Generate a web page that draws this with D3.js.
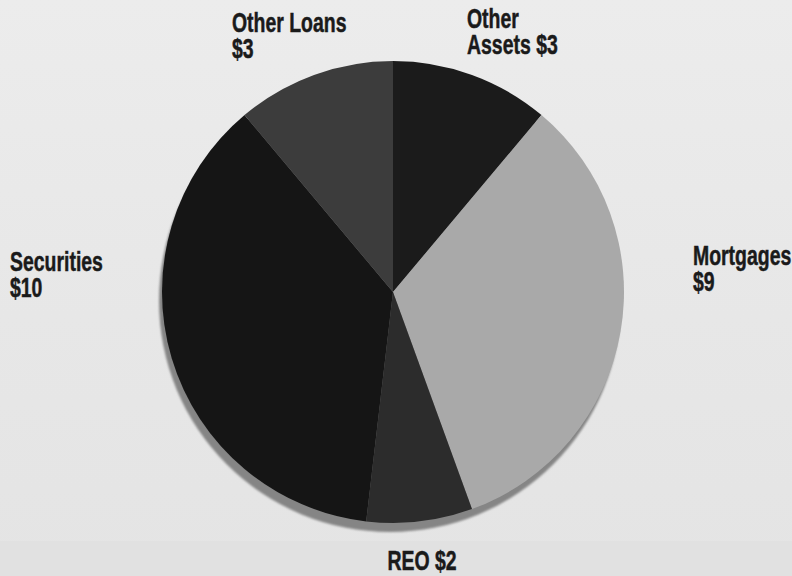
<!DOCTYPE html>
<html>
<head>
<meta charset="utf-8">
<script src="https://cdn.jsdelivr.net/npm/d3@7"></script>
<style>
  html, body { margin: 0; padding: 0; background: #e7e7e7; }
  svg { display: block; }
  .lbl { font-family: "Liberation Sans", Arial, sans-serif; font-weight: bold; font-size: 27px; fill: #1a1a1a; stroke: #1a1a1a; stroke-width: 0.5px; }
</style>
</head>
<body>
<svg id="chart" width="792" height="576"></svg>
<script>
// ---- data ----
const categories = ["Other Assets", "Mortgages", "REO", "Securities", "Other Loans"];
const values = [3, 9, 2, 10, 3];
const labelLines = [["Other", "Assets $3"], ["Mortgages", "$9"], ["REO $2"], ["Securities", "$10"], ["Other Loans", "$3"]];
const colors = ["#1b1b1b", "#a9a9a9", "#2c2c2c", "#151515", "#3c3c3c"];

// ---- layout ----
const W = 792, H = 576;
const cx = 393, cy = 292, R = 231;
const lineGap = 26;
// label placement relative to pie centre (first baseline)
const labelLayout = [
  { dx: 74, dy: -264, anchor: "start" },
  { dx: 300, dy: -27, anchor: "start" },
  { dx: 29, dy: 278, anchor: "middle" },
  { dx: -383, dy: -21, anchor: "start" },
  { dx: -161, dy: -260, anchor: "start" }
];

const svg = d3.select("#chart");

// background
const defs = svg.append("defs");
const bg = defs.append("linearGradient").attr("id", "bg").attr("x1", 0).attr("y1", 0).attr("x2", 0).attr("y2", 1);
bg.append("stop").attr("offset", "0%").attr("stop-color", "#ececec");
bg.append("stop").attr("offset", "55%").attr("stop-color", "#e7e7e7");
bg.append("stop").attr("offset", "100%").attr("stop-color", "#e4e4e4");
svg.append("rect").attr("width", W).attr("height", H).attr("fill", "url(#bg)");
svg.append("rect").attr("y", 541).attr("width", W).attr("height", H - 541).attr("fill", "#e1e1e1");

const blur = defs.append("filter").attr("id", "soft").attr("x", "-10%").attr("y", "-10%").attr("width", "120%").attr("height", "120%");
blur.append("feGaussianBlur").attr("stdDeviation", 1.2);

const pie = d3.pie().value(d => d).sort(null);
const arcs = pie(values);
const arc = d3.arc().innerRadius(0).outerRadius(R);

const g = svg.append("g").attr("transform", `translate(${cx},${cy})`);

// shadow
g.append("path")
  .attr("d", d3.arc().innerRadius(0).outerRadius(R).startAngle(0).endAngle(2 * Math.PI)())
  .attr("transform", "translate(-3,9)")
  .attr("fill", "#858585")
  .attr("filter", "url(#soft)");

g.selectAll("path.slice")
  .data(arcs)
  .join("path")
  .attr("class", "slice")
  .attr("d", arc)
  .attr("fill", (d, i) => colors[i]);

// labels
const lg = svg.append("g");
arcs.forEach((d, i) => {
  const L = labelLayout[i];
  const x = cx + L.dx;
  const y = cy + L.dy;
  const t = lg.append("g").attr("transform", `translate(${x},${y}) scale(0.72,1)`)
    .append("text").attr("class", "lbl").attr("text-anchor", L.anchor);
  labelLines[i].forEach((line, j) => {
    t.append("tspan").attr("x", 0).attr("dy", j === 0 ? 0 : lineGap).text(line);
  });
});
</script>
</body>
</html>
